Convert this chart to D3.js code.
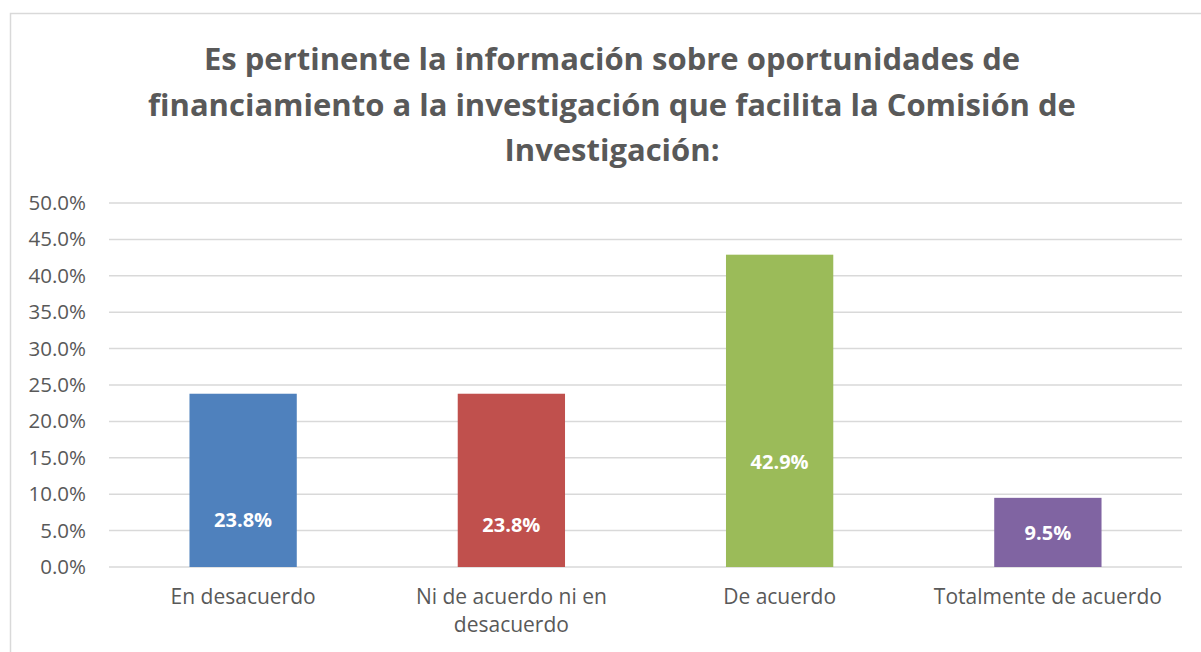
<!DOCTYPE html>
<html>
<head>
<meta charset="utf-8">
<script src="https://cdn.jsdelivr.net/npm/d3@7"></script>
<style>
  body { margin: 0; background: #fff; }
  svg { display: block; font-family: "Open Sans", "Liberation Sans", sans-serif; }
</style>
</head>
<body>
<svg id="chart" width="1201" height="652"></svg>
<script>
// chart data
var categories = ['En desacuerdo', 'Ni de acuerdo ni en desacuerdo', 'De acuerdo', 'Totalmente de acuerdo'];
var values = [0.238, 0.238, 0.429, 0.095];
var colors = ['#4f81bd', '#c0504d', '#9bbb59', '#8064a2'];
var yTicks = [0, 0.05, 0.10, 0.15, 0.20, 0.25, 0.30, 0.35, 0.40, 0.45, 0.50];
var titleLines = [
    'Es pertinente la información sobre oportunidades de',
    'financiamiento a la investigación que facilita la Comisión de',
    'Investigación:'
];

var svg = d3.select('#chart');

// outer chart border (runs off the right/bottom edge like the source)
svg.append('rect')
    .attr('x', 10.5).attr('y', 13.5)
    .attr('width', 1210).attr('height', 660)
    .attr('fill', 'none')
    .attr('stroke', '#d9d9d9')
    .attr('stroke-width', 1.5);

var margin = { top: 203, left: 109, right: 19, bottom: 85 };
var width = 1201 - margin.left - margin.right,
    height = 652 - margin.top - margin.bottom;

var g = svg.append('g').attr('transform', 'translate(' + margin.left + ',' + margin.top + ')');

var x = d3.scaleBand()
    .domain(categories)
    .range([0, width])
    .paddingInner(0.6)
    .paddingOuter(0.3);

var y = d3.scaleLinear()
    .domain([0, 0.5])
    .range([height, 0]);

// gridlines
g.append('g')
    .selectAll('line')
    .data(yTicks)
    .join('line')
    .attr('x1', 0).attr('x2', width)
    .attr('y1', function(d) { return y(d); })
    .attr('y2', function(d) { return y(d); })
    .attr('stroke', '#d9d9d9')
    .attr('stroke-width', 1.5);

// y axis labels
var yAxis = g.append('g')
    .call(d3.axisLeft(y).tickValues(yTicks).tickFormat(d3.format('.1%')).tickSize(0).tickPadding(23));
yAxis.select('.domain').remove();
yAxis.selectAll('text')
    .attr('fill', '#595959')
    .style('font-size', '20.5px')
    .style('font-family', '"Open Sans", sans-serif');

// bars
g.selectAll('.bar')
    .data(values)
    .join('rect')
    .attr('class', 'bar')
    .attr('x', function(d, i) { return x(categories[i]); })
    .attr('y', function(d) { return y(d); })
    .attr('width', x.bandwidth())
    .attr('height', function(d) { return height - y(d); })
    .attr('fill', function(d, i) { return colors[i]; });

// data labels were dragged by hand in the source, so they sit at these heights
var labelAt = [0.065, 0.058, 0.144, 0.047];
g.selectAll('.val')
    .data(values)
    .join('text')
    .attr('class', 'val')
    .attr('x', function(d, i) { return x(categories[i]) + x.bandwidth() / 2; })
    .attr('y', function(d, i) { return y(labelAt[i]); })
    .attr('dy', '0.35em')
    .attr('text-anchor', 'middle')
    .attr('fill', '#fff')
    .style('font-size', '20px')
    .style('font-weight', 'bold')
    .text(function(d) { return d3.format('.1%')(d); });

// category labels, wrapped to the band
var xAxis = g.append('g')
    .attr('transform', 'translate(0,' + height + ')')
    .call(d3.axisBottom(x).tickSize(0).tickPadding(22));
xAxis.select('.domain').remove();
xAxis.selectAll('text')
    .attr('fill', '#595959')
    .style('font-size', '21px')
    .style('font-family', '"Open Sans", sans-serif')
    .call(wrap, x.step() * 0.93);

function wrap(texts, maxWidth) {
    texts.each(function() {
        var text = d3.select(this),
            words = text.text().split(/\s+/),
            yPos = text.attr('y'),
            dy = parseFloat(text.attr('dy')),
            line = [],
            lineNo = 0,
            tspan = text.text(null).append('tspan').attr('x', 0).attr('y', yPos).attr('dy', dy + 'em');
        words.forEach(function(word) {
            line.push(word);
            tspan.text(line.join(' '));
            if (tspan.node().getComputedTextLength() > maxWidth && line.length > 1) {
                line.pop();
                tspan.text(line.join(' '));
                line = [word];
                lineNo++;
                tspan = text.append('tspan').attr('x', 0).attr('y', yPos)
                    .attr('dy', (lineNo * 1.33 + dy) + 'em').text(word);
            }
        });
    });
}

// title
svg.append('g')
    .selectAll('text')
    .data(titleLines)
    .join('text')
    .attr('x', 612)
    .attr('y', function(d, i) { return 70 + i * 45.5; })
    .attr('text-anchor', 'middle')
    .attr('fill', '#595959')
    .style('font-size', '31px')
    .style('font-weight', 'bold')
    .text(function(d) { return d; });
</script>
</body>
</html>
